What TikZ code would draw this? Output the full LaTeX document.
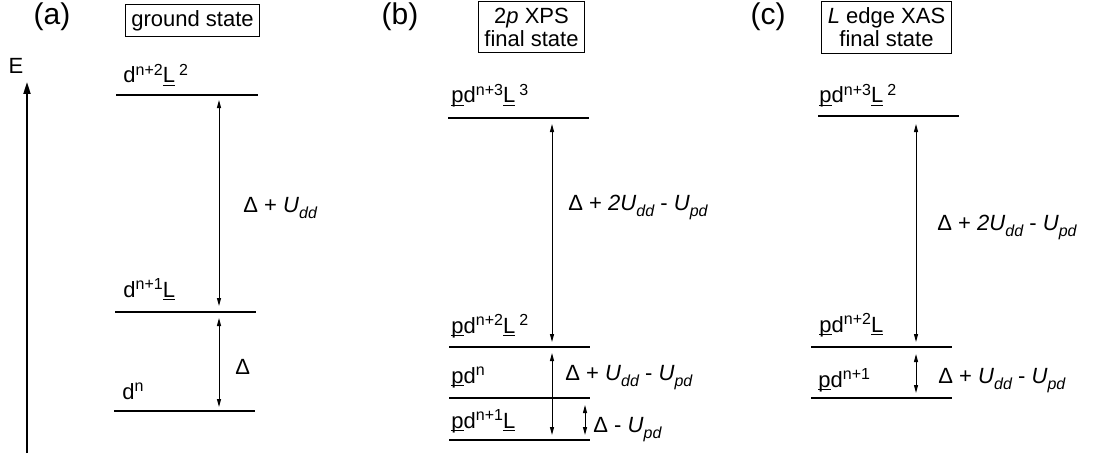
\documentclass[tikz,border=0pt]{standalone}
\usepackage{fontspec}
\setmainfont{Liberation Sans}
\usetikzlibrary{arrows.meta}

\newcommand{\ul}[1]{\underline{\smash{#1}\vphantom{L}}}
\newcommand{\hi}[1]{\raisebox{3.6pt}{\fontsize{8}{9}\selectfont #1}}
\newcommand{\lo}[1]{\raisebox{-3pt}{\fontsize{8}{9}\selectfont\itshape #1}}

\tikzset{
  level/.style={line width=0.75pt},
  gap/.style={line width=0.5pt, {Triangle[length=4pt,width=2pt]}-{Triangle[length=4pt,width=2pt]}},
  lbl/.style={anchor=base west, inner sep=0pt, font=\fontsize{11}{13}\selectfont},
  statebox/.style={draw, line width=0.5pt, align=center, inner xsep=3pt, inner ysep=3pt,
    font=\fontsize{11}{11.5}\selectfont},
  panel/.style={inner sep=0pt, font=\fontsize{15}{18}\selectfont}
}

\begin{document}
\begin{tikzpicture}[x=0.5pt,y=-0.5pt]
    \useasboundingbox (0,0) rectangle (1095,460);

    % energy axis
    \coordinate (e0) at (27,453);
    \coordinate (e1) at (27,82);
    \draw[line width=1pt, -{Triangle[length=6pt,width=3.5pt]}] (e0) -- (e1);
    \node[inner sep=0pt, font=\fontsize{11}{13}\selectfont] (elbl) at (16,66) {E};

    % (a) ground state
    \node[panel] (pa) at (52,17) {(a)};
    \node[statebox] (sa) at (192.5,20.5) {ground state};
    \draw[level] (116,95) -- (258,95);
    \draw[level] (115,312) -- (256,312);
    \draw[level] (114,411) -- (255,411);
    \node[lbl] (a3) at (123,83) {d\hi{n+2}\ul{L}\kern2pt\hi{2}};
    \node[lbl] (a2) at (123,297) {d\hi{n+1}\ul{L}};
    \node[lbl] (a1) at (122,399) {d\hi{n}};
    \coordinate (a3b) at (219,100);
    \coordinate (a2t) at (219,306);
    \coordinate (a2b) at (219,318);
    \coordinate (a1t) at (219,407);
    \draw[gap] (a3b) -- (a2t);
    \draw[gap] (a2b) -- (a1t);
    \node[lbl] (da3) at (243,212) {Δ + \textit{U}\lo{dd}};
    \node[lbl] (da2) at (235,374) {Δ};

    % (b) 2p XPS final state
    \node[panel] (pb) at (400,17) {(b)};
    \node[statebox] (sb) at (531.5,27) {2\textit{p} XPS\\final state};
    \draw[level] (448,118) -- (589,118);
    \draw[level] (449,347) -- (590,347);
    \draw[level] (449,398) -- (590,398);
    \draw[level] (449,440) -- (590,440);
    \node[lbl] (b4) at (451,103) {\ul{p}d\hi{n+3}\ul{L}\kern2pt\hi{3}};
    \node[lbl] (b3) at (451,333) {\ul{p}d\hi{n+2}\ul{L}\kern2pt\hi{2}};
    \node[lbl] (b2) at (451,383) {\ul{p}d\hi{n}};
    \node[lbl] (b1) at (451,428) {\ul{p}d\hi{n+1}\ul{L}};
    \coordinate (b4b) at (552,124);
    \coordinate (b3t) at (552,342);
    \coordinate (b3b) at (552,353);
    \coordinate (b1t) at (552,435);
    \coordinate (b2b) at (585,405);
    \coordinate (b1s) at (585,435);
    \draw[gap] (b4b) -- (b3t);
    \draw[gap] (b3b) -- (b1t);
    \draw[gap] (b2b) -- (b1s);
    \node[lbl] (db4) at (568,210) {Δ + \textit{2U}\lo{dd} - \textit{U}\lo{pd}};
    \node[lbl] (db3) at (565,380) {Δ + \textit{U}\lo{dd} - \textit{U}\lo{pd}};
    \node[lbl] (db2) at (593,432) {Δ - \textit{U}\lo{pd}};

    % (c) L edge XAS final state
    \node[panel] (pc) at (768,17) {(c)};
    \node[statebox] (sc) at (886.5,27.5) {\textit{L} edge XAS\\final state};
    \draw[level] (818,116) -- (959,116);
    \draw[level] (811,347) -- (952,347);
    \draw[level] (811,398) -- (952,398);
    \node[lbl] (c3) at (819,103) {\ul{p}d\hi{n+3}\ul{L}\kern2pt\hi{2}};
    \node[lbl] (c2) at (819,332) {\ul{p}d\hi{n+2}\ul{L}};
    \node[lbl] (c1) at (818,387) {\ul{p}d\hi{n+1}};
    \coordinate (c3b) at (916,124);
    \coordinate (c2t) at (916,342);
    \coordinate (c2b) at (916,354);
    \coordinate (c1t) at (916,393);
    \draw[gap] (c3b) -- (c2t);
    \draw[gap] (c2b) -- (c1t);
    \node[lbl] (dc3) at (937,230) {Δ + \textit{2U}\lo{dd} - \textit{U}\lo{pd}};
    \node[lbl] (dc2) at (938,383) {Δ + \textit{U}\lo{dd} - \textit{U}\lo{pd}};
\end{tikzpicture}
\end{document}
